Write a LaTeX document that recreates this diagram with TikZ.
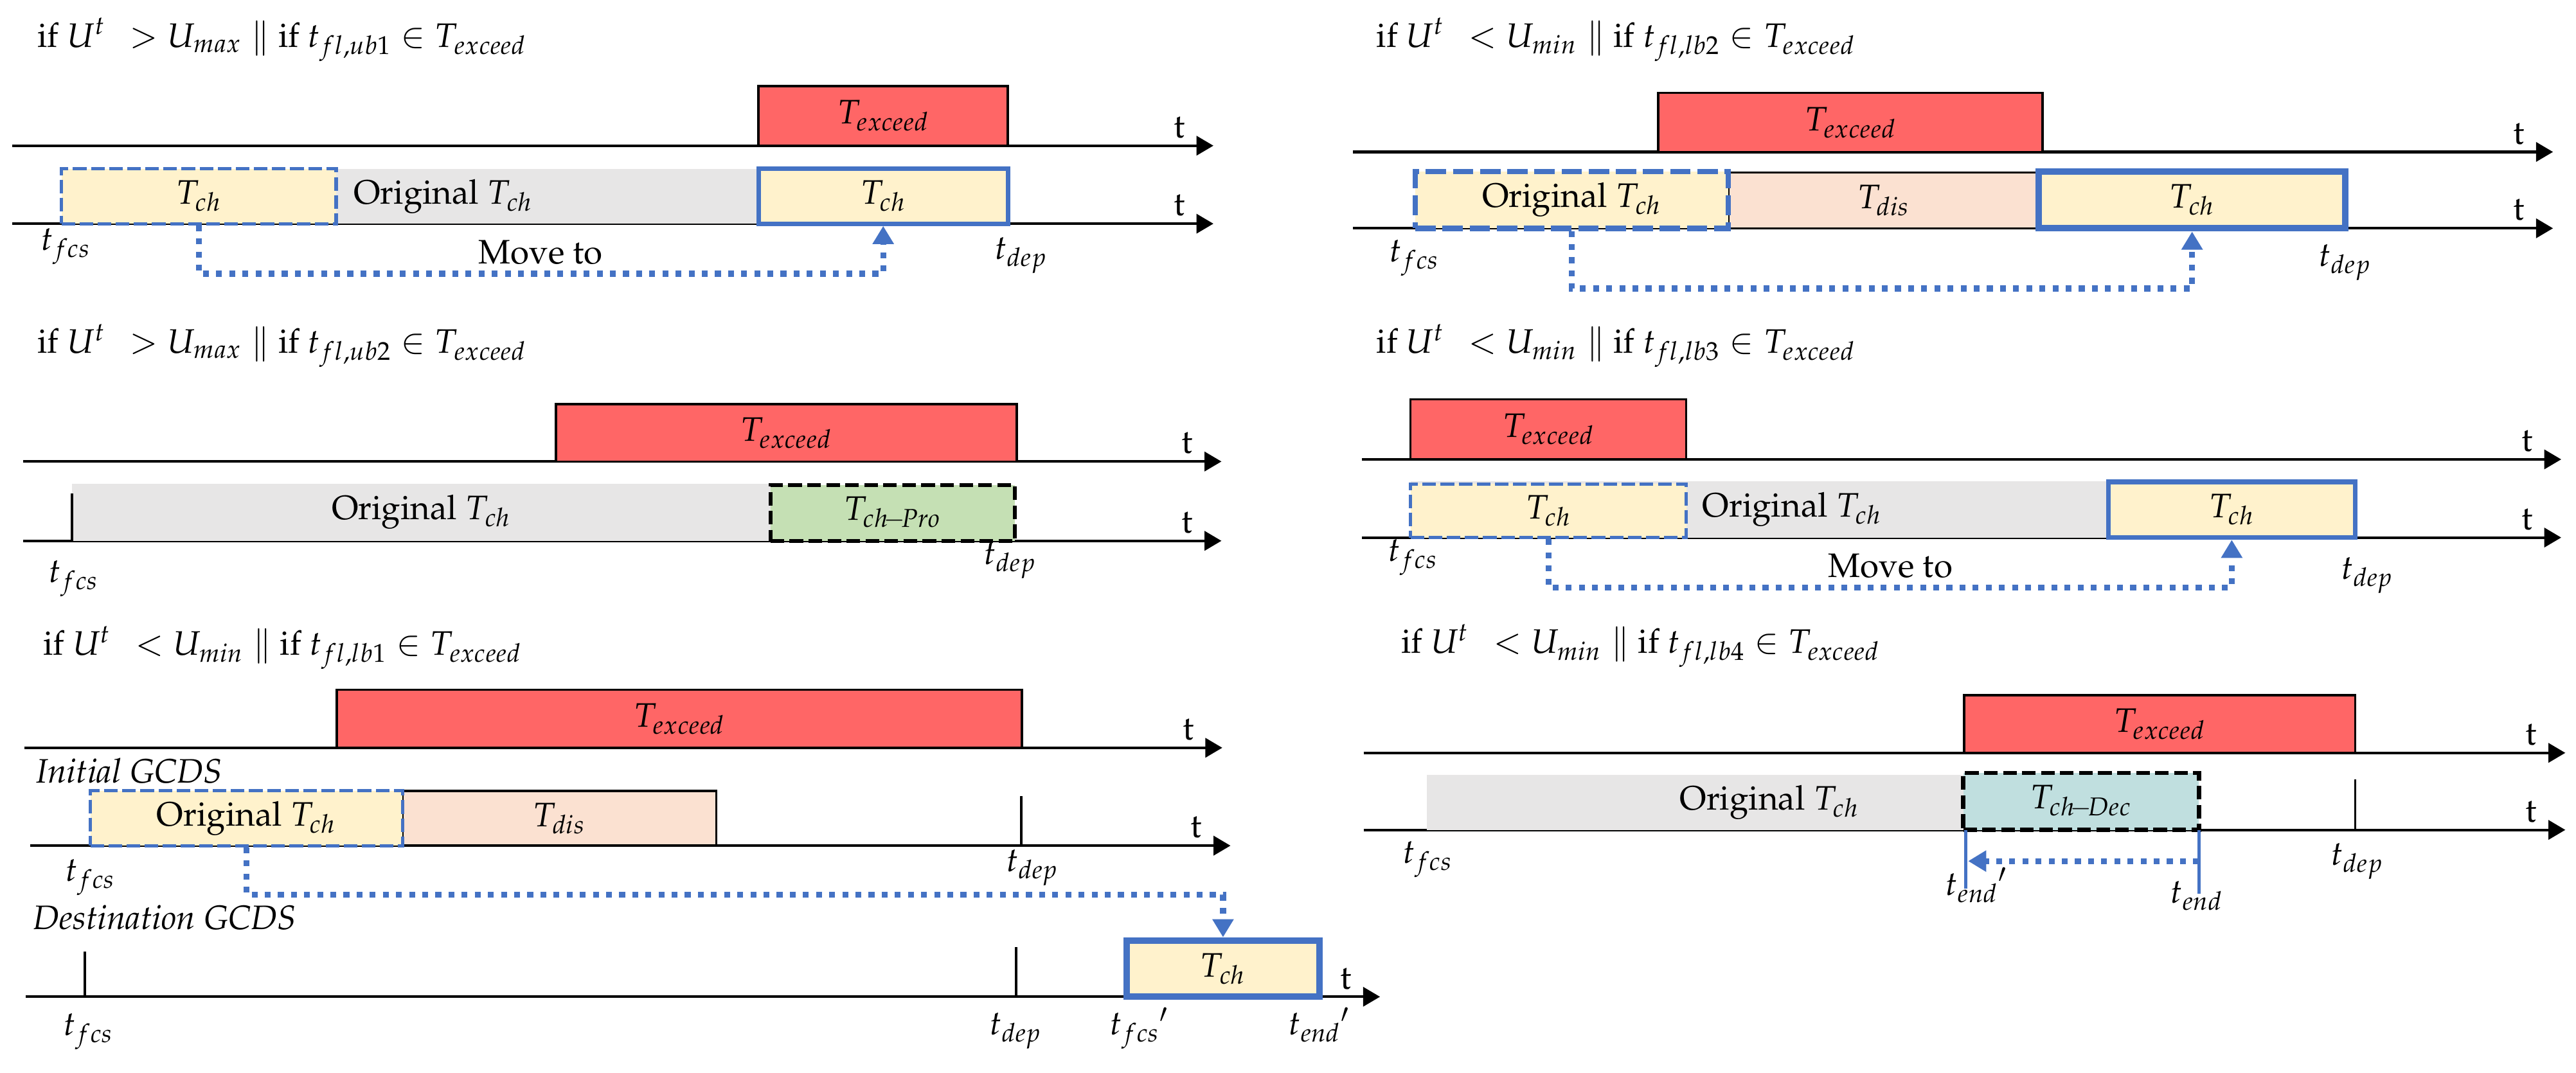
\documentclass[tikz,border=0pt]{standalone}
\usepackage[T1]{fontenc}
\usepackage{amsmath,amssymb}
\usepackage{mathpazo}
\usetikzlibrary{arrows.meta, fit}
\definecolor{exred}{HTML}{FF6666}
\definecolor{chyel}{HTML}{FFF2CC}
\definecolor{orggray}{HTML}{E7E6E6}
\definecolor{dispeach}{HTML}{FBE1D1}
\definecolor{progreen}{HTML}{C5E0B4}
\definecolor{decteal}{HTML}{C0DFDF}
\definecolor{mvblue}{HTML}{4472C4}
\tikzset{
every node/.style={font=\fontsize{15}{18}\selectfont, inner sep=0pt}, % all texts in one size
axis/.style={line width=1.2pt, -{Triangle[length=7.5pt,width=8.5pt]}}, % time axis
tl/.style={anchor=base east, xshift=-12pt, yshift=3.5pt}, % the t at the arrow
tick/.style={line width=1pt},
exc/.style={draw=black, line width=1pt, fill=exred},
orig/.style={fill=orggray},
chnew/.style={draw=mvblue, line width=2pt, fill=chyel},
chold/.style={draw=mvblue, line width=1.5pt, dash pattern=on 6pt off 2pt, fill=chyel},
dis/.style={draw=black, line width=1pt, fill=dispeach},
pro/.style={draw=black, line width=1.8pt, dash pattern=on 6pt off 2.4pt, fill=progreen},
dec/.style={draw=black, line width=1.8pt, dash pattern=on 6pt off 2.4pt, fill=decteal},
moveto/.style={draw=mvblue, line width=2.6pt, dash pattern=on 2.6pt off 3.2pt, -{Triangle[length=8pt,width=9pt]}},
blueln/.style={draw=mvblue, line width=1.4pt},
}
\newcommand{\casehead}[3]{if $U^{t}\;\,#1 U_{#2} \parallel$ if $t_{fl,#3} \in T_{exceed}$}
\newcommand{\tlab}[1]{$t_{#1}$}
\newcommand{\taxis}[4]{\coordinate (#1s) at (#3,#2); \coordinate (#1e) at (#4,#2);
  \draw[axis] (#1s) -- (#1e) node[tl] (#1t) {t};}
\newcommand{\tslot}[7]{\node[#1, fit={(#3,#4) (#5,#6)}] (#2) {}; \node (#2t) at (#2.center) {#7};}
\newcommand{\ttick}[4]{\coordinate (#1a) at (#2,#3); \coordinate (#1b) at (#2,#4); \draw[tick] (#1a) -- (#1b);}

\begin{document}
\begin{tikzpicture}[x=0.02551cm, y=-0.02551cm]% one unit per column of the reference
  \useasboundingbox (0,0) rectangle (1568,653);

  % U above U_max, ub1
  \node[anchor=base west] (h1) at (22.5,28.6) {\casehead{>}{max}{ub1}};
  \taxis{a1}{88.7}{7.5}{738.6}
  \taxis{b1}{136.2}{7.5}{738.6}
  \tslot{exc}{e1}{461.7}{52.4}{613.5}{88.7}{$T_{exceed}$}
  \node[orig, fit={(37.4,102.7) (613.5,136.2)}] (g1) {};
  \node[anchor=west] (g1t) at (215,119.5) {Original $T_{ch}$};
  \tslot{chold}{o1}{37.4}{102.7}{204.6}{136.2}{$T_{ch}$}
  \tslot{chnew}{n1}{461.7}{102.7}{613.5}{136.2}{$T_{ch}$}
  \draw[moveto] (o1.south) -- ++(0,29.4) -| (n1.south);
  \node[anchor=base] (m1) at (329,160.7) {Move to};
  \node[anchor=base] (f1) at (40,152.3) {\tlab{fcs}};
  \node[anchor=base] (d1) at (621.5,158) {\tlab{dep}};

  % U above U_max, ub2
  \node[anchor=base west] (h2) at (22.5,215) {\casehead{>}{max}{ub2}};
  \taxis{a2}{281}{14}{743.5}
  \taxis{b2}{329.3}{14}{743.5}
  \tslot{exc}{e2}{338.3}{246}{618.8}{281}{$T_{exceed}$}
  \tslot{orig}{g2}{43.9}{294.5}{469}{329.3}{Original $T_{ch}$}
  \ttick{k2}{43.9}{300.5}{329.3}
  \tslot{pro}{p2}{469}{295.4}{617.8}{329.3}{$T_{ch\!-\!Pro}$}
  \node[anchor=base] (f2) at (45,354.7) {\tlab{fcs}};
  \node[anchor=base] (d2) at (615,343.6) {\tlab{dep}};

  % U below U_min, lb1: move to another GCDS
  \node[anchor=base west] (h3) at (26,399) {\casehead{<}{min}{lb1}};
  \taxis{a3}{455.3}{14.7}{744}
  \taxis{b3}{514.9}{18.4}{749}
  \taxis{c3}{606.9}{15.7}{840}
  \tslot{exc}{e3}{205}{420}{622}{455.3}{$T_{exceed}$}
  \node[anchor=base west] (i3) at (22,476.5) {\textit{Initial GCDS}};
  \tslot{dis}{s3}{245}{481.5}{436}{514.9}{$T_{dis}$}
  \tslot{chold}{o3}{55}{481.5}{245}{514.9}{Original $T_{ch}$}
  \ttick{k3}{621.6}{484.8}{514.9}
  \node[anchor=base west] (j3) at (20,566) {\textit{Destination GCDS}};
  \ttick{u3}{51.6}{579.3}{606.9}
  \ttick{v3}{618.6}{576.7}{606.9}
  \tslot{chnew, line width=2.8pt}{n3}{685.7}{572.6}{803.2}{606.9}{$T_{ch}$}
  \draw[moveto] (o3.south) -- ++(0,28.8) -| (n3.north);
  \node[anchor=base] (f3) at (55,536.7) {\tlab{fcs}};
  \node[anchor=base] (d3) at (628.5,530.8) {\tlab{dep}};
  \node[anchor=base] (f3b) at (54,630.5) {\tlab{fcs}};
  \node[anchor=base] (d3b) at (618.3,630) {\tlab{dep}};
  \node[anchor=base] (f3c) at (693.5,630) {$t_{fcs}{}'$};
  \node[anchor=base] (z3) at (803,630) {$t_{end}{}'$};

  % U below U_min, lb2
  \node[anchor=base west] (h4) at (837.6,28.6) {\casehead{<}{min}{lb2}};
  \taxis{a4}{92.5}{823.6}{1554}
  \taxis{b4}{139}{823.6}{1554}
  \tslot{exc}{e4}{1009.4}{56.6}{1243.3}{92.5}{$T_{exceed}$}
  \tslot{dis}{s4}{1052}{105}{1241}{139}{$T_{dis}$}
  \tslot{chold, line width=2.4pt, dash pattern=on 9pt off 3pt}{o4}{861.5}{104.5}{1052}{139}{Original $T_{ch}$}
  \tslot{chnew, line width=2.9pt}{n4}{1241}{104.5}{1427.6}{139}{$T_{ch}$}
  \draw[moveto] (o4.south) -- ++(0,35) -| (n4.south);
  \node[anchor=base] (f4) at (861,159.3) {\tlab{fcs}};
  \node[anchor=base] (d4) at (1427.5,162) {\tlab{dep}};

  % U below U_min, lb3
  \node[anchor=base west] (h5) at (837.6,215) {\casehead{<}{min}{lb3}};
  \taxis{a5}{279.7}{829}{1559}
  \taxis{b5}{327.3}{829}{1559}
  \tslot{exc}{e5}{858.6}{243.2}{1026.4}{279.7}{$T_{exceed}$}
  \node[orig, fit={(858.6,293) (1433.6,327.3)}] (g5) {};
  \node[anchor=west] (g5t) at (1036,310) {Original $T_{ch}$};
  \tslot{chold}{o5}{858.6}{294.7}{1026.4}{327.3}{$T_{ch}$}
  \tslot{chnew}{n5}{1283.3}{293.4}{1433.6}{327.3}{$T_{ch}$}
  \draw[moveto] (o5.south) -- ++(0,29.4) -| (n5.south);
  \node[anchor=base] (m5) at (1150.7,351.4) {Move to};
  \node[anchor=base] (f5) at (860,341.7) {\tlab{fcs}};
  \node[anchor=base] (d5) at (1441,352.8) {\tlab{dep}};

  % U below U_min, lb4: end earlier
  \node[anchor=base west] (h6) at (852.6,397.8) {\casehead{<}{min}{lb4}};
  \taxis{a6}{458.4}{830}{1561.5}
  \taxis{b6}{505.3}{830}{1561.5}
  \tslot{exc}{e6}{1195.6}{423.2}{1433.6}{458.4}{$T_{exceed}$}
  \node[orig, fit={(868.6,471.8) (1195,505.3)}] (g6) {};
  \node (g6t) at (1077,488.5) {Original $T_{ch}$};
  \tslot{dec}{k6}{1195}{470.5}{1338.5}{505.3}{$T_{ch\!-\!Dec}$}
  \ttick{q6}{1433.6}{474.7}{505.3}
  \coordinate (w6a) at (1196.5,505.3); \coordinate (w6b) at (1196.5,541);
  \coordinate (w6c) at (1338.5,505.3); \coordinate (w6d) at (1338.5,544);
  \draw[blueln] (w6a) -- (w6b);
  \draw[blueln] (w6c) -- (w6d);
  \coordinate (r6a) at (1338.5,524.3); \coordinate (r6b) at (1198,524.3);
  \draw[moveto] (r6a) -- (r6b);
  \node[anchor=base] (f6) at (869,525.6) {\tlab{fcs}};
  \node[anchor=base] (d6) at (1435,526.8) {\tlab{dep}};
  \node[anchor=base] (x6a) at (1203,545) {$t_{end}{}'$};
  \node[anchor=base] (x6b) at (1337,549.7) {\tlab{end}};
\end{tikzpicture}
\end{document}
